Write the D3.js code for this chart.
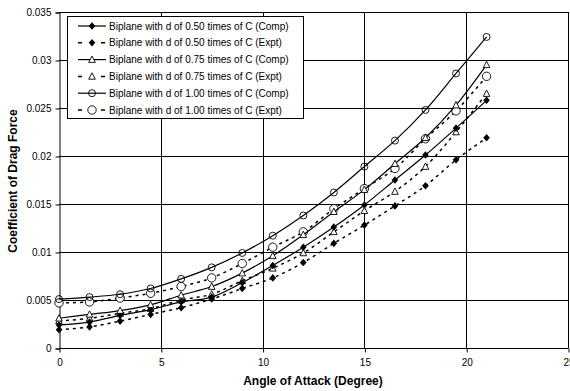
<!DOCTYPE html>
<html><head><meta charset="utf-8">
<script src="https://cdn.jsdelivr.net/npm/d3@7"></script>
<style>body{margin:0;background:#fff;font-family:"Liberation Sans",Arial,sans-serif;}</style>
</head><body><svg id="c" width="570" height="391"></svg>
<script>
const angles = [0,1.5,3,4.5,6,7.5,9,10.5,12,13.5,15,16.5,18,19.5,21];
const comp050 = [0.0024,0.0027,0.0034,0.0040,0.0048,0.0053,0.0068,0.0086,0.0105,0.0126,0.0149,0.0175,0.0201,0.0229,0.0258];
const expt050 = [0.0019,0.0022,0.0028,0.0035,0.0042,0.0051,0.0062,0.0073,0.0089,0.0109,0.0128,0.0148,0.0169,0.0196,0.0219];
const comp075 = [0.0031,0.0035,0.0039,0.0045,0.0055,0.0064,0.0078,0.0096,0.0118,0.0142,0.0165,0.0192,0.0219,0.0253,0.0295];
const expt075 = [0.0028,0.0031,0.0036,0.0041,0.0050,0.0056,0.0070,0.0083,0.0099,0.0121,0.0143,0.0163,0.0189,0.0225,0.0265];
const comp100 = [0.0051,0.0053,0.0056,0.0062,0.0072,0.0084,0.0099,0.0117,0.0138,0.0162,0.0189,0.0216,0.0248,0.0286,0.0324];
const expt100 = [0.0047,0.0048,0.0052,0.0057,0.0064,0.0073,0.0088,0.0105,0.0121,0.0145,0.0166,0.0187,0.0218,0.0247,0.0283];
const xTicks = [0,5,10,15,20,25];
const yTicks = [0,0.005,0.01,0.015,0.02,0.025,0.03,0.035];
const seriesNames = [
 "Biplane with d of 0.50 times of C (Comp)",
 "Biplane with d of 0.50 times of C (Expt)",
 "Biplane with d of 0.75 times of C (Comp)",
 "Biplane with d of 0.75 times of C (Expt)",
 "Biplane with d of 1.00 times of C (Comp)",
 "Biplane with d of 1.00 times of C (Expt)"];
const xTitle = "Angle of Attack (Degree)";
const yTitle = "Coefficient of Drag Force";

const series = [
 {name:seriesNames[0], vals:comp050, dashed:false, marker:"diamond"},
 {name:seriesNames[1], vals:expt050, dashed:true, marker:"diamond"},
 {name:seriesNames[2], vals:comp075, dashed:false, marker:"triangle"},
 {name:seriesNames[3], vals:expt075, dashed:true, marker:"triangle"},
 {name:seriesNames[4], vals:comp100, dashed:false, marker:"circle"},
 {name:seriesNames[5], vals:expt100, dashed:true, marker:"circleBig"}
];

const svg = d3.select("#c");
const L=59, R=568, T=12, B=348;
const x = d3.scaleLinear().domain([0,25]).range([L,R]);
const y = d3.scaleLinear().domain([0,0.035]).range([B,T]);

// gridlines
const g = svg.append("g");
g.selectAll(".vg").data(xTicks.slice(1)).enter().append("line")
 .attr("x1",d=>Math.round(x(d))+0.5).attr("x2",d=>Math.round(x(d))+0.5).attr("y1",T).attr("y2",B)
 .attr("stroke","#000").attr("stroke-width",1);
g.selectAll(".hg").data(yTicks.slice(1)).enter().append("line")
 .attr("x1",L).attr("x2",R).attr("y1",d=>Math.round(y(d))+0.5).attr("y2",d=>Math.round(y(d))+0.5)
 .attr("stroke","#000").attr("stroke-width",1);

// axes
const xAxis = d3.axisBottom(x).tickValues(xTicks).tickSize(4).tickPadding(6).tickFormat(d3.format("d"));
const yAxis = d3.axisLeft(y).tickValues(yTicks).tickSize(4).tickPadding(4).tickFormat(d=>d===0?"0":d3.format("")(+d.toFixed(3)));
const gx = svg.append("g").attr("transform",`translate(0.5,${B+0.5})`).call(xAxis);
const gy = svg.append("g").attr("transform",`translate(${L+0.5},0.5)`).call(yAxis);
[gx,gy].forEach(a=>{
 a.selectAll("path").attr("stroke","#000");
 a.selectAll("line").attr("stroke","#000");
 a.selectAll("text").attr("font-family","Liberation Sans, Arial, sans-serif").attr("font-size","10px").attr("fill","#000");
});
gx.select(".domain").attr("d",`M${L},0H${R}`);

// titles
svg.append("text").attr("x",313).attr("y",385).attr("text-anchor","middle")
 .attr("font-size","12px").attr("font-weight","bold").text(xTitle);
svg.append("text").attr("transform","translate(17,181) rotate(-90)").attr("text-anchor","middle")
 .attr("font-size","12px").attr("font-weight","bold").text(yTitle);

// lines
const line = d3.line().x(d=>x(d[0])).y(d=>y(d[1])).curve(d3.curveCatmullRom.alpha(0.5));
function drawMarker(sel, type, cx, cy){
 if(type==="diamond"){
  sel.append("path").attr("d",`M${cx},${cy-3.8}L${cx+3.3},${cy}L${cx},${cy+3.8}L${cx-3.3},${cy}Z`).attr("fill","#000");
 } else if(type==="triangle"){
  sel.append("path").attr("d",`M${cx},${cy-3.6}L${cx+3.3},${cy+2.8}L${cx-3.3},${cy+2.8}Z`).attr("fill","#fff").attr("stroke","#000").attr("stroke-width",0.9);
 } else if(type==="circle"){
  sel.append("circle").attr("cx",cx).attr("cy",cy).attr("r",3.5).attr("fill","none").attr("stroke","#000").attr("stroke-width",0.9);
 } else {
  sel.append("circle").attr("cx",cx).attr("cy",cy).attr("r",4.2).attr("fill","#fff").attr("stroke","#000").attr("stroke-width",0.9);
 }
}
const order = [1,3,5,0,2,4];
order.forEach(i=>{
 const s = series[i];
 const pts = angles.map((a,k)=>[a,s.vals[k]]);
 const gs = svg.append("g");
 gs.append("path").attr("d",line(pts)).attr("fill","none").attr("stroke","#000")
  .attr("stroke-width",s.dashed?1.5:1.2).attr("stroke-dasharray",s.dashed?"3,4":null);
 pts.forEach(p=>drawMarker(gs,s.marker,x(p[0]),y(p[1])));
});

// legend
const lg = svg.append("g");
lg.append("rect").attr("x",67.5).attr("y",16.5).attr("width",236).attr("height",102)
 .attr("fill","#fff").attr("stroke","#000").attr("stroke-width",1);
series.forEach((s,i)=>{
 const ly = 26 + i*16.8;
 if(s.dashed){
  lg.append("line").attr("x1",78).attr("x2",106).attr("y1",ly).attr("y2",ly)
   .attr("stroke","#000").attr("stroke-width",1.5).attr("stroke-dasharray","4,19");
 } else {
  lg.append("line").attr("x1",78).attr("x2",106).attr("y1",ly).attr("y2",ly)
   .attr("stroke","#000").attr("stroke-width",1.2);
 }
 drawMarker(lg,s.marker,92,ly);
 lg.append("text").attr("x",109).attr("y",ly+3.5).attr("font-size","10px").text(s.name);
});
</script>
</body></html>
